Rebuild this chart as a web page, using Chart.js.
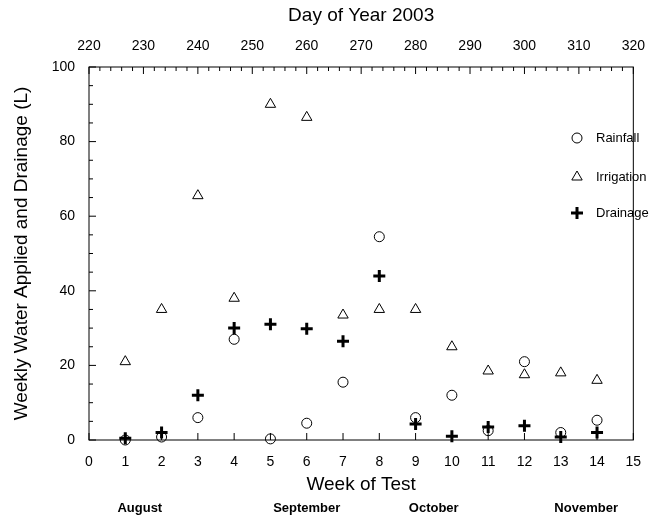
<!DOCTYPE html>
<html lang="en">
<head>
<meta charset="UTF-8">
<title>Weekly Water Applied and Drainage</title>
<script src="https://cdn.jsdelivr.net/npm/chart.js"></script>
<style>
  body { margin: 0; background: #fff; }
  #wrap { width: 649px; height: 517px; }
</style>
</head>
<body>
<div id="wrap"><canvas id="chart"></canvas></div>
<script>
const weeks = [1, 2, 3, 4, 5, 6, 7, 8, 9, 10, 11, 12, 13, 14];
const rainfall = [0, 0.8, 6, 27, 0.3, 4.5, 15.5, 54.5, 6, 12, 2.5, 21, 2, 5.3];
const irrigation = [21, 35, 65.5, 38, 90, 86.5, 33.5, 35, 35, 25, 18.5, 17.5, 18, 16];
const drainage = [0.5, 2, 12, 30, 31, 29.8, 26.5, 44, 4.3, 1, 3.5, 3.8, 0.8, 2];
const months = [['August', 1.4], ['September', 6.0], ['October', 9.5], ['November', 13.7]];

const pts = arr => arr.map((v, i) => ({ x: weeks[i], y: v }));

const series = [
  { label: 'Rainfall', data: pts(rainfall), pointStyle: 'circle', pointRadius: 5, borderWidth: 1 },
  { label: 'Irrigation', data: pts(irrigation), pointStyle: 'triangle', pointRadius: 6, borderWidth: 1 },
  { label: 'Drainage', data: pts(drainage), pointStyle: 'cross', pointRadius: 6, borderWidth: 3 }
];

// inward ticks, legend and month labels
const extras = {
  id: 'extras',
  afterDraw(chart) {
    const ctx = chart.ctx, a = chart.chartArea;
    const x = chart.scales.x, y = chart.scales.y, x2 = chart.scales.x2;
    ctx.save();
    ctx.strokeStyle = '#000';
    ctx.lineWidth = 1;
    ctx.strokeRect(a.left, a.top, a.right - a.left, a.bottom - a.top);
    ctx.beginPath();
    for (let w = 0; w <= 15; w++) {
      const px = x.getPixelForValue(w);
      ctx.moveTo(px, a.bottom); ctx.lineTo(px, a.bottom - 7);
    }
    for (let d = 220; d <= 320; d += 2) {
      const px = x2.getPixelForValue(d);
      const len = d % 10 === 0 ? 7 : 4;
      ctx.moveTo(px, a.top); ctx.lineTo(px, a.top + len);
    }
    for (let v = 0; v <= 100; v += 5) {
      const py = y.getPixelForValue(v);
      const len = v % 20 === 0 ? 7 : 4;
      ctx.moveTo(a.left, py); ctx.lineTo(a.left + len, py);
    }
    ctx.stroke();

    ctx.font = '13px Arial, "Liberation Sans", sans-serif';
    ctx.textBaseline = 'middle';
    const legendY = [138, 177, 213];
    series.forEach((s, i) => {
      ctx.fillStyle = 'rgba(0,0,0,0)';
      ctx.lineWidth = s.borderWidth;
      Chart.helpers.drawPoint(ctx, {
        pointStyle: s.pointStyle, radius: s.pointRadius, rotation: 0, borderWidth: s.borderWidth
      }, 577, legendY[i]);
      ctx.fillStyle = '#000';
      ctx.fillText(s.label, 596, legendY[i]);
    });

    ctx.font = 'bold 13px Arial, "Liberation Sans", sans-serif';
    ctx.textAlign = 'center';
    months.forEach(m => ctx.fillText(m[0], x.getPixelForValue(m[1]), 508));
    ctx.restore();
  }
};

new Chart(document.getElementById('chart'), {
  type: 'scatter',
  data: {
    datasets: series.map(s => ({
      label: s.label, data: s.data, pointStyle: s.pointStyle,
      pointRadius: s.pointRadius, pointBorderWidth: s.borderWidth,
      pointBorderColor: '#000', pointBackgroundColor: 'rgba(0,0,0,0)',
      borderColor: '#000', clip: false
    }))
  },
  options: {
    responsive: true,
    maintainAspectRatio: false,
    animation: false,
    layout: { padding: { right: 14, left: 6, bottom: 17 } },
    plugins: { legend: { display: false }, tooltip: { enabled: false } },
    scales: {
      x: {
        type: 'linear', min: 0, max: 15,
        afterFit: s => { s.height = 60; },
        grid: { display: false },
        border: { display: false },
        ticks: { stepSize: 1, color: '#000', font: { size: 14, family: 'Arial' }, padding: 6 },
        title: { display: true, text: 'Week of Test', color: '#000', font: { size: 19, family: 'Arial' }, padding: { top: 0 } }
      },
      x2: {
        type: 'linear', position: 'top', min: 220, max: 320,
        afterFit: s => { s.height = 67; },
        grid: { display: false },
        border: { display: false },
        ticks: { stepSize: 10, color: '#000', font: { size: 14, family: 'Arial' }, padding: 4 },
        title: { display: true, text: 'Day of Year 2003', color: '#000', font: { size: 19, family: 'Arial' }, padding: { top: 4, bottom: 0 } }
      },
      y: {
        min: 0, max: 100,
        afterFit: s => { s.width = 83; },
        grid: { display: false },
        border: { display: false },
        ticks: { stepSize: 20, color: '#000', font: { size: 14, family: 'Arial' }, padding: 6 },
        title: { display: true, text: 'Weekly Water Applied and Drainage (L)', color: '#000', font: { size: 19, family: 'Arial' } }
      }
    }
  },
  plugins: [extras]
});
</script>
</body>
</html>
